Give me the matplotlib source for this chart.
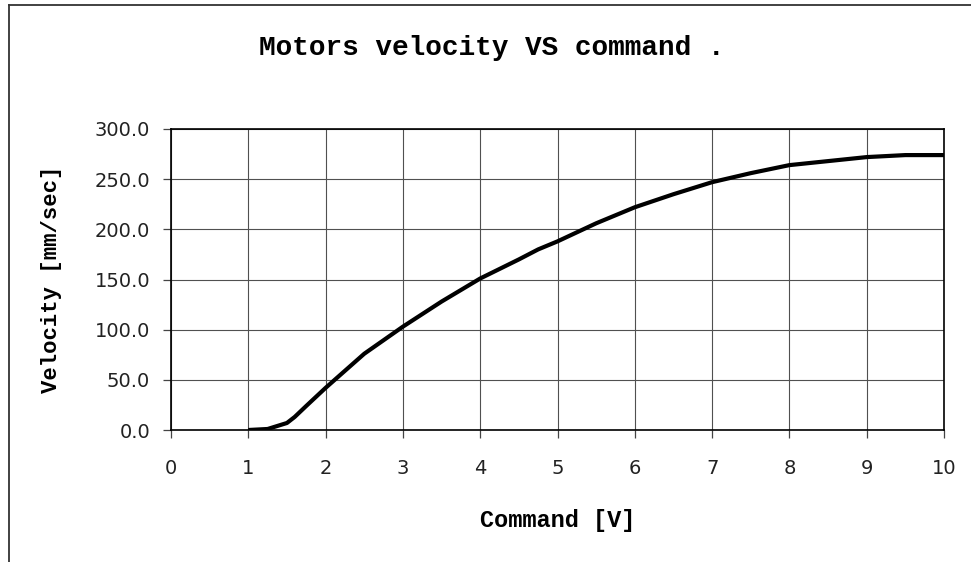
import matplotlib
matplotlib.use("Agg")
import matplotlib.pyplot as plt
from matplotlib.lines import Line2D

command = [1.0, 1.25, 1.5, 1.6, 1.75, 2.0, 2.5, 3.0, 3.5, 4.0, 4.5, 4.75,
           5.0, 5.5, 6.0, 6.5, 7.0, 7.5, 8.0, 8.5, 9.0, 9.5, 10.0]
velocity = [0.0, 1.0, 7.0, 13.0, 24.0, 42.0, 76.0, 103.0, 128.0, 151.0, 170.0, 180.0,
            188.0, 206.0, 222.0, 235.0, 247.0, 256.0, 264.0, 268.0, 272.0, 274.0, 274.0]

x_ticks = list(range(0, 11))
y_ticks = [0, 50, 100, 150, 200, 250, 300]

W, H = 971, 562
fig = plt.figure(figsize=(W / 100, H / 100), dpi=100)
ax = fig.add_axes([171 / W, 1 - 430 / H, (944 - 171) / W, (430 - 129) / H])

ax.plot(command, velocity, color="black", lw=3.0, solid_capstyle="butt", zorder=3)

ax.set_xlim(0, 10)
ax.set_ylim(0, 300)
ax.set_xticks(x_ticks)
ax.set_yticks(y_ticks)
ax.set_yticklabels([f"{v:.1f}" for v in y_ticks])
ax.grid(True, color="#505050", lw=0.8)
ax.set_axisbelow(True)
for sp in ax.spines.values():
    sp.set_color("black")
    sp.set_linewidth(1.2)

ax.tick_params(axis="both", direction="out", length=6, width=0.9, color="#444444",
               labelsize=14, labelcolor="#222222")
ax.tick_params(axis="x", pad=15)
ax.tick_params(axis="y", pad=9)
for lbl in ax.get_xticklabels() + ax.get_yticklabels():
    lbl.set_fontfamily("DejaVu Sans")

mono = ["Liberation Mono", "DejaVu Sans Mono"]
ax.set_xlabel("Command [V]", fontfamily=mono, fontweight="bold", fontsize=17)
ax.set_ylabel("Velocity [mm/sec]", fontfamily=mono, fontweight="bold", fontsize=16)
ax.xaxis.set_label_coords(0.5, (430 - 509) / 301)
ax.yaxis.set_label_coords((62 - 171) / 773, 0.5)

fig.text(492 / W, 1 - 48 / H, "Motors velocity VS command .", fontfamily=mono,
         fontweight="bold", fontsize=20, ha="center", va="center")

# outer chart frame (only top and left edges show)
fig.add_artist(Line2D([9 / W, 1.0], [1 - 5 / H, 1 - 5 / H], transform=fig.transFigure,
                      color="#333333", lw=1.3))
fig.add_artist(Line2D([9 / W, 9 / W], [0.0, 1 - 5 / H], transform=fig.transFigure,
                      color="#333333", lw=1.3))

fig.savefig("out.png", dpi=100)
